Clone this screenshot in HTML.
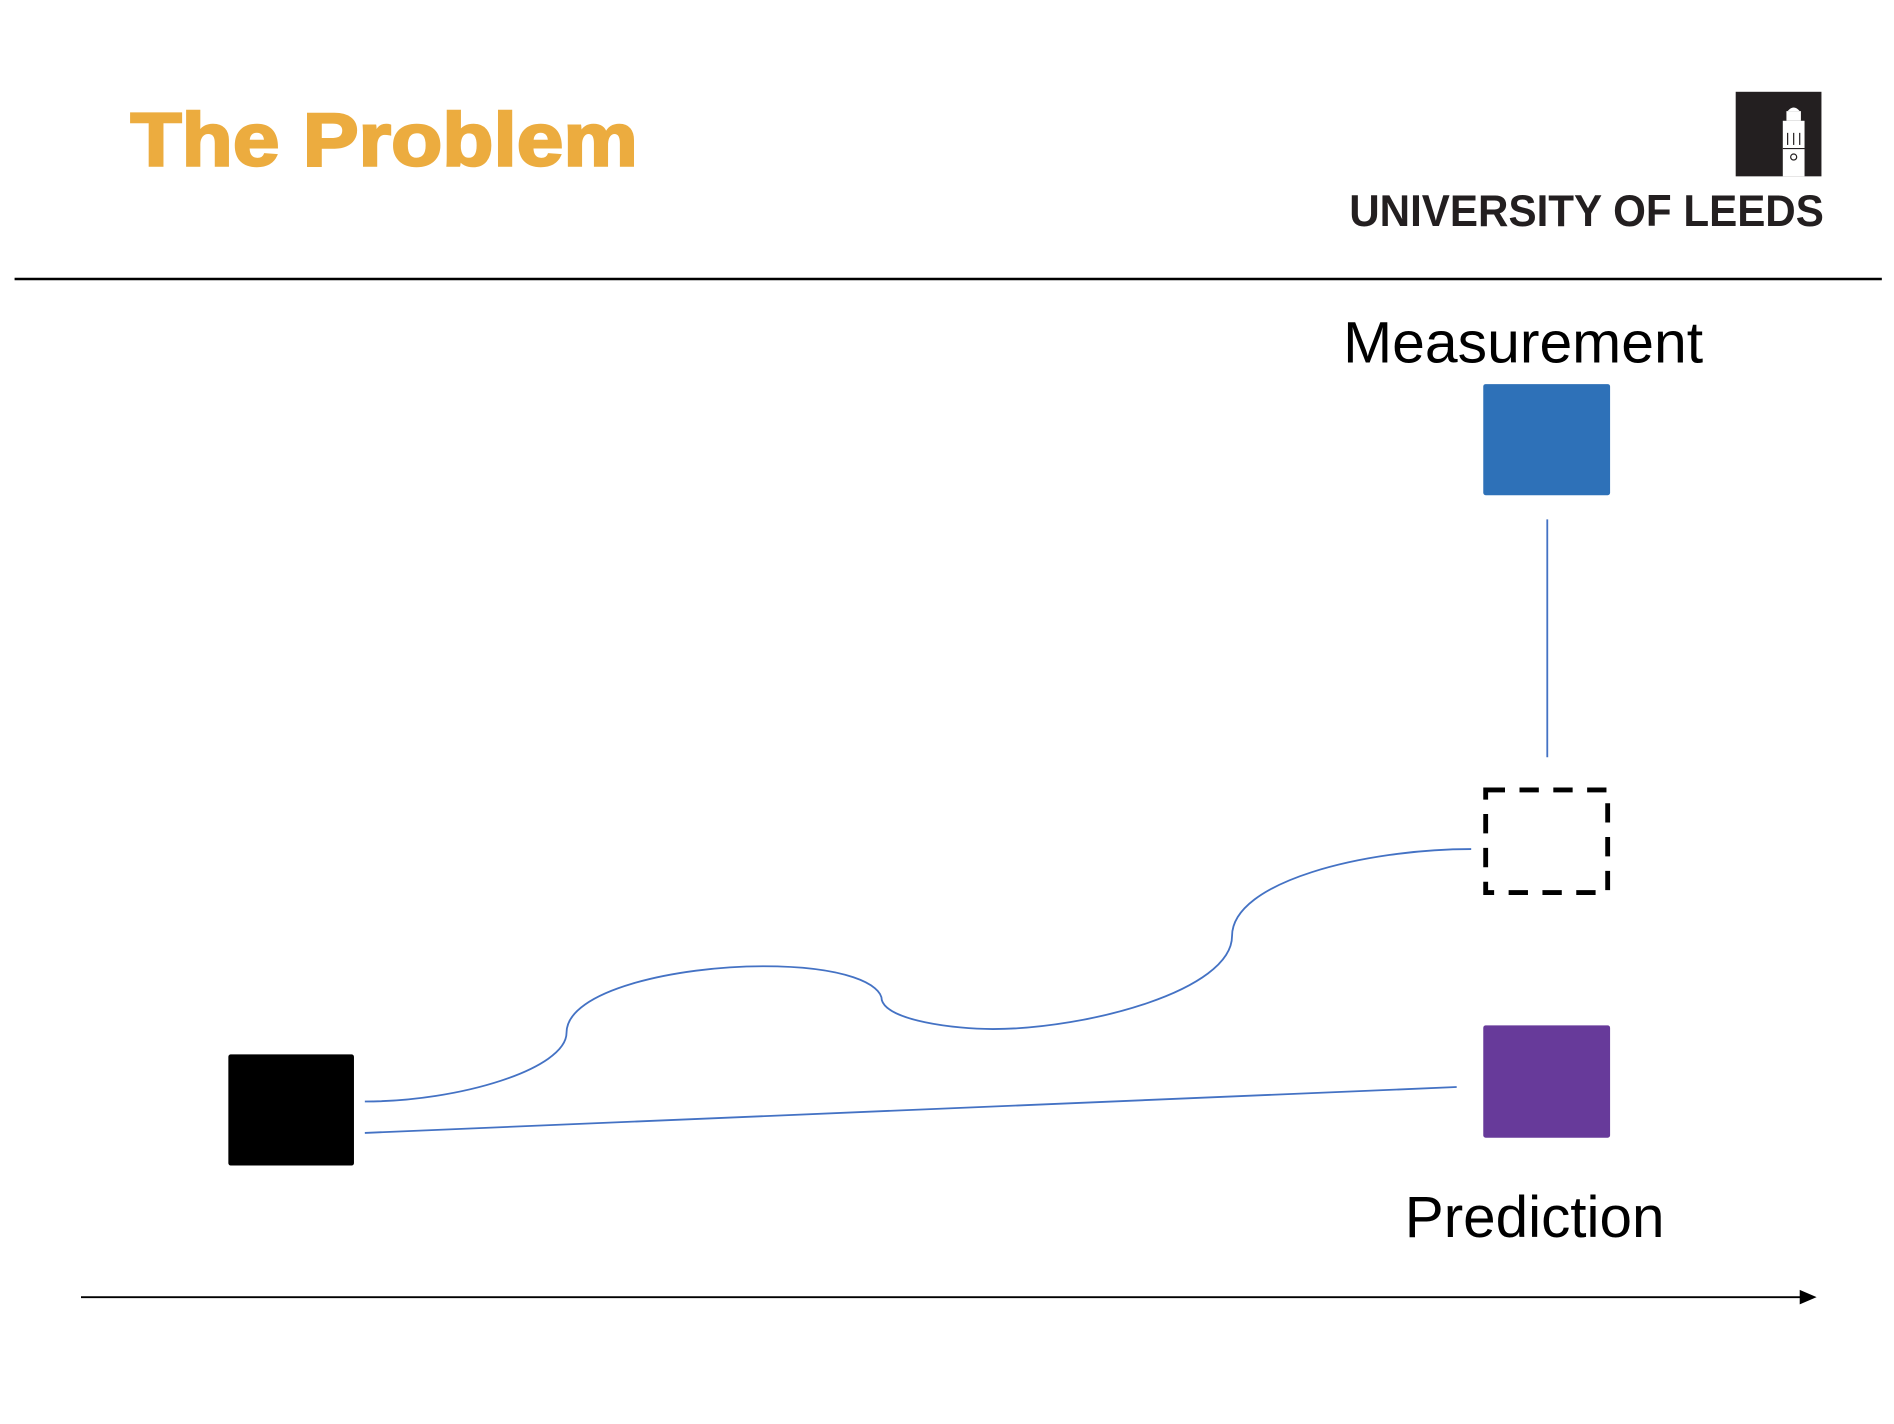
<!DOCTYPE html>
<html><head><meta charset="utf-8"><style>html,body{margin:0;padding:0;background:#fff;width:1894px;height:1424px;overflow:hidden}</style></head>
<body>
<svg width="1894" height="1424" viewBox="0 0 1568 1179" xmlns="http://www.w3.org/2000/svg">
<rect width="1568" height="1179" fill="#fff"/>
<text x="108" y="137" font-family="Liberation Sans, sans-serif" font-weight="bold" font-size="62" fill="#ECAC3F" stroke="#ECAC3F" stroke-width="2" textLength="420" lengthAdjust="spacingAndGlyphs">The Problem</text>
<g>
<rect x="1437" y="76" width="71" height="70" fill="#231F20"/>
<g fill="#fff">
<rect x="1476" y="100" width="18" height="46"/>
<rect x="1479" y="92" width="12" height="8"/>
<path d="M1480 92 Q1485 86 1490 92Z"/>
</g>
<g stroke="#231F20" stroke-width="1" fill="none">
<line x1="1480" y1="110" x2="1480" y2="120"/><line x1="1485" y1="110" x2="1485" y2="120"/><line x1="1490" y1="110" x2="1490" y2="120"/>
<line x1="1476" y1="123" x2="1494" y2="123"/>
<circle cx="1485" cy="130" r="2.5"/>
</g>
<text x="1117" y="187" font-family="Liberation Sans, sans-serif" font-weight="bold" font-size="37" fill="#231F20" textLength="393" lengthAdjust="spacingAndGlyphs">UNIVERSITY OF LEEDS</text>
</g>
<line x1="12" y1="231" x2="1558" y2="231" stroke="#000" stroke-width="2"/>
<text x="1112" y="300" font-family="Liberation Sans, sans-serif" font-size="48" fill="#000" textLength="298" lengthAdjust="spacingAndGlyphs">Measurement</text>
<rect x="1228" y="318" width="105" height="92" rx="2" fill="#2E71B8"/>
<line x1="1281" y1="430" x2="1281" y2="627" stroke="#4472C4" stroke-width="1.5"/>
<rect x="1230" y="654" width="101" height="85" fill="none" stroke="#000" stroke-width="4" stroke-dasharray="16,12"/>
<rect x="1228" y="849" width="105" height="93" rx="2" fill="#673A9A"/>
<text x="1163" y="1024" font-family="Liberation Sans, sans-serif" font-size="48" fill="#000" textLength="215" lengthAdjust="spacingAndGlyphs">Prediction</text>
<rect x="189" y="873" width="104" height="92" rx="2" fill="#000"/>
<path d="M302 912 C380 912 469 885 469 855 C469 820 560 800 632 800 C700 800 730 815 730 828 C735 845 790 852 822 852 C900 852 1020 820 1020 775 C1020 730 1130 703 1218 703" fill="none" stroke="#4472C4" stroke-width="1.5"/>
<line x1="302" y1="938" x2="1206" y2="900" stroke="#4472C4" stroke-width="1.5"/>
<line x1="67" y1="1074" x2="1492" y2="1074" stroke="#000" stroke-width="1.5"/>
<path d="M1490 1068 L1504 1074 L1490 1080Z" fill="#000"/>
</svg>
</body></html>
